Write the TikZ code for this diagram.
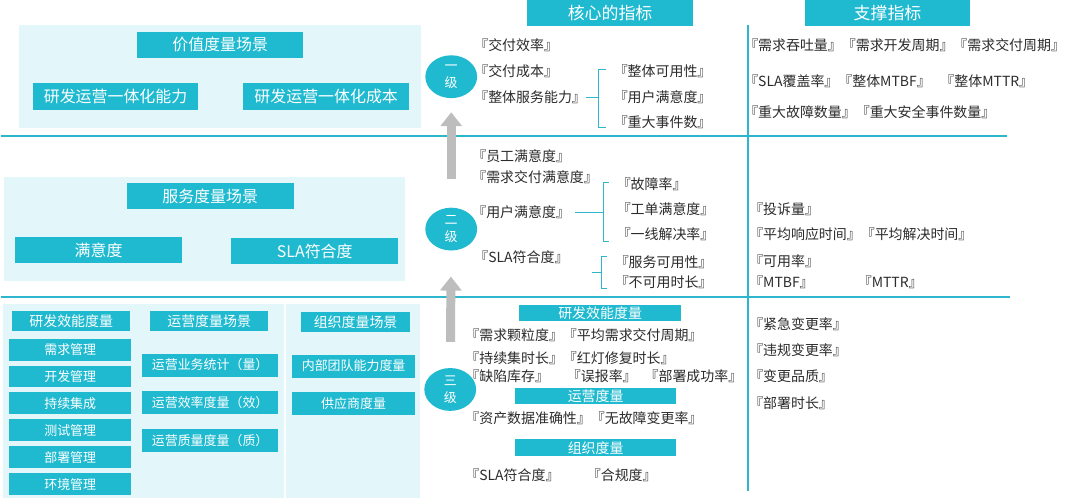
\documentclass[tikz,border=0pt]{standalone}
\usepackage{fontspec}
\setmainfont{Noto Sans CJK SC}
\usepackage{xcolor}
\usepackage{tikz}
\usetikzlibrary{arrows.meta,shapes.geometric,calc}

\definecolor{boxcyan}{HTML}{1FBAD0}
\definecolor{palecyan}{HTML}{E3F6FA}
\definecolor{rulecyan}{HTML}{2DB6CC}
\definecolor{inkgray}{HTML}{2B2B2B}
\definecolor{liftgray}{HTML}{BDBDBD}

\tikzset{
    tagbox/.style={fill=boxcyan, text=white, inner sep=0, font=\fontsize{16}{18}\selectfont},
    midtag/.style={tagbox, font=\fontsize{14}{16}\selectfont},
    smalltag/.style={tagbox, font=\fontsize{13}{15}\selectfont},
    kpi/.style={anchor=west, inner sep=0, text=inkgray, font=\fontsize{14}{16}\selectfont},
    tier/.style={ellipse, fill=boxcyan, text=white, minimum width=52, minimum height=43, inner sep=0, align=center, font=\fontsize{13}{17}\selectfont},
    lift/.style={liftgray, line width=9, -{Triangle[width=21pt,length=14pt]}},
    brk/.style={rulecyan, line width=1},
    sepline/.style={rulecyan, line width=2}
}

\begin{document}
\begin{tikzpicture}[x=1pt, y=-1pt]
        \fill [white] (0, 0) rectangle (1065, 500);
        % left panels
        \fill [palecyan] (18, 25) rectangle (422, 129);
        \fill [palecyan] (3, 178) rectangle (406, 282);
        \fill [palecyan] (2, 305) rectangle (421, 500);
        \draw [white, line width=1.5] (285, 305) -- (285, 500);
        % separators
        \draw [sepline] (0, 137) -- (1010, 137);
        \draw [sepline] (0, 298.5) -- (1013, 298.5);
        \draw [sepline] (750, 25) -- (750, 493);
        % headers
        \node [tagbox, minimum width=167, minimum height=26, font=\fontsize{17}{19}\selectfont] (core) at (611.5, 13) {核心的指标};
        \node [tagbox, minimum width=166, minimum height=26, font=\fontsize{17}{19}\selectfont] (support) at (890, 13) {支撑指标};
        % value scene
        \node [tagbox, minimum width=166, minimum height=26] (value) at (220, 45) {价值度量场景};
        \node [tagbox, minimum width=166, minimum height=27] (capa) at (115, 96.5) {研发运营一体化能力};
        \node [tagbox, minimum width=167, minimum height=27] (cost) at (326.5, 96.5) {研发运营一体化成本};
        % service scene
        \node [tagbox, minimum width=168, minimum height=26] (service) at (210, 197) {服务度量场景};
        \node [tagbox, minimum width=168, minimum height=26] (satis) at (98, 251) {满意度};
        \node [tagbox, minimum width=168, minimum height=26] (sla) at (315, 252) {SLA符合度};
        % third level scenes
        \node [midtag, minimum width=119, minimum height=20] (rd) at (70.5, 322) {研发效能度量};
        \node [midtag, minimum width=118, minimum height=20] (ops) at (209, 322) {运营度量场景};
        \node [midtag, minimum width=110, minimum height=20] (org) at (356, 323) {组织度量场景};
        \foreach \t [count=\i] in {需求管理,开发管理,持续集成,测试管理,部署管理,环境管理}{
            \node [smalltag, minimum width=123, minimum height=22] (rd\i) at (69.5, {324+27*\i}) {\t};
        }
        \foreach \t [count=\i] in {运营业务统计（量）,运营效率度量（效）,运营质量度量（质）}{
            \node [smalltag, minimum width=136, minimum height=23] (ops\i) at (210, {328.5+38*\i}) {\t};
        }
        \node [smalltag, minimum width=124, minimum height=23] (org1) at (354, 367.5) {内部团队能力度量};
        \node [smalltag, minimum width=124, minimum height=23] (org2) at (354, 405) {供应商度量};
        % levels
        \node [tier] (lv1) at (452, 77) {一\\级};
        \node [tier] (lv2) at (452, 230) {二\\级};
        \node [tier] (lv3) at (451, 391) {三\\级};
        \draw [lift, shorten <=29pt, shorten >=14pt] (lv2) -- (lv1);
        \draw [lift, shorten <=26pt, shorten >=26pt] (lv3) -- (lv2);
        % level one
        \node [kpi] (t1) at (475, 45) {『交付效率』};
        \node [kpi] (t2) at (475, 71) {『交付成本』};
        \node [kpi] (t3) at (475, 98) {『整体服务能力』};
        \node [kpi] (t4) at (615, 71) {『整体可用性』};
        \node [kpi] (t5) at (615, 98) {『用户满意度』};
        \node [kpi] (t6) at (615, 123) {『重大事件数』};
        \coordinate (k1a) at (600, 70);
        \coordinate (k1b) at (600, 128);
        \draw [brk] (k1a) ++(7, 0) -- (k1a) -- (k1b) -- ++(7, 0);
        \draw [brk] (t3.east) -- (t3.east -| k1a);
        % level two
        \node [kpi] (m1) at (473, 157) {『员工满意度』};
        \node [kpi] (m2) at (473, 178) {『需求交付满意度』};
        \node [kpi] (m3) at (473, 213) {『用户满意度』};
        \node [kpi] (m4) at (618, 185) {『故障率』};
        \node [kpi] (m5) at (618, 210) {『工单满意度』};
        \node [kpi] (m6) at (618, 235) {『一线解决率』};
        \node [kpi] (m7) at (475, 258) {『SLA符合度』};
        \node [kpi] (m8) at (616, 263) {『服务可用性』};
        \node [kpi] (m9) at (616, 283) {『不可用时长』};
        \coordinate (k2a) at (605, 183);
        \coordinate (k2b) at (605, 242);
        \draw [brk] (k2a) ++(5, 0) -- (k2a) -- (k2b) -- ++(5, 0);
        \draw [brk] (m3.east) ++(5, 0) -- (m3.east -| k2a);
        \coordinate (k3a) at (603, 258);
        \coordinate (k3b) at (603, 290);
        \draw [brk] (k3a) ++(5, 0) -- (k3a) -- (k3b) -- ++(5, 0);
        \draw [brk] ($(k3a)!0.5!(k3b)$) -- ++(-10, 0);
        % level three
        \node [midtag, minimum width=163, minimum height=16] (rdm) at (601.5, 314) {研发效能度量};
        \node [kpi] (r1) at (466, 337) {『需求颗粒度』『平均需求交付周期』};
        \node [kpi] (r2) at (466, 360) {『持续集时长』『红灯修复时长』};
        \node [kpi] (r3) at (466, 378) {『缺陷库存』};
        \node [kpi] (r4) at (568, 378) {『误报率』};
        \node [kpi] (r5) at (646, 378) {『部署成功率』};
        \node [midtag, minimum width=162, minimum height=16] (opsm) at (597, 398) {运营度量};
        \node [kpi] (r6) at (466, 420) {『资产数据准确性』『无故障变更率』};
        \node [midtag, minimum width=162, minimum height=17] (orgm) at (597, 449.5) {组织度量};
        \node [kpi] (r7) at (466, 477) {『SLA符合度』};
        \node [kpi] (r8) at (588, 477) {『合规度』};
        % support column
        \node [kpi] (s1) at (746, 45) {『需求吞吐量』『需求开发周期』『需求交付周期』};
        \node [kpi] (s2) at (746, 82) {『SLA覆盖率』『整体MTBF』};
        \node [kpi] (s3) at (943, 82) {『整体MTTR』};
        \node [kpi] (s4) at (746, 113) {『重大故障数量』『重大安全事件数量』};
        \node [kpi] (s5) at (751, 210) {『投诉量』};
        \node [kpi] (s6) at (751, 235) {『平均响应时间』『平均解决时间』};
        \node [kpi] (s7) at (751, 262) {『可用率』};
        \node [kpi] (s8) at (751, 283) {『MTBF』};
        \node [kpi] (s9) at (860, 283) {『MTTR』};
        \foreach \t/\y [count=\i] in {『紧急变更率』/325, 『违规变更率』/352, 『变更品质』/378, 『部署时长』/405}{
            \node [kpi] (ch\i) at (751, \y) {\t};
        }
    \end{tikzpicture}
\end{document}
